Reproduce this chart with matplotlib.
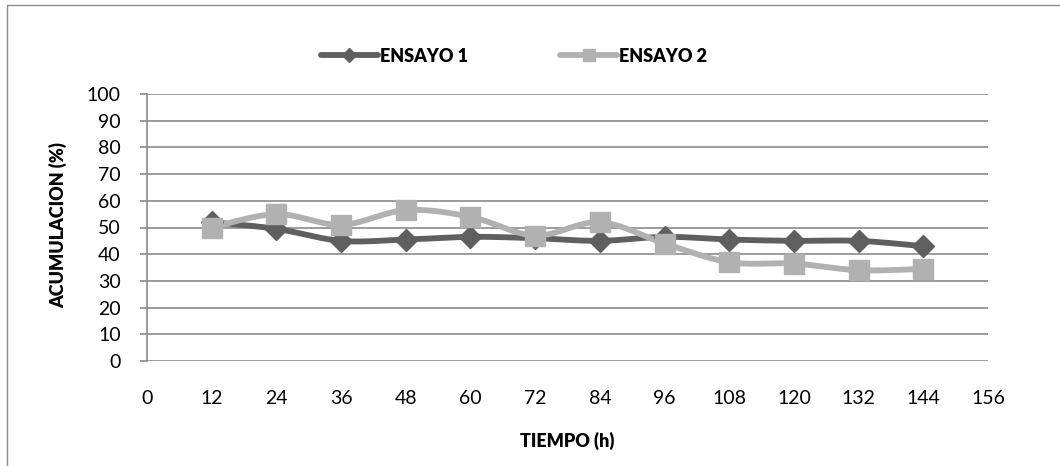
import numpy as np
import matplotlib
matplotlib.use("Agg")
import matplotlib.pyplot as plt
from matplotlib.lines import Line2D
from matplotlib.patches import Rectangle

# Data
tiempo = [12, 24, 36, 48, 60, 72, 84, 96, 108, 120, 132, 144]
ensayo_1 = [52, 49.5, 45, 45.5, 46.5, 46, 45, 46.5, 45.5, 45, 45, 43]
ensayo_2 = [50, 55, 51, 56.5, 54, 47, 52, 44, 37, 36.5, 34, 34.5]
x_ticks = list(range(0, 157, 12))
y_ticks = list(range(0, 101, 10))

C1 = "#5f5f5f"
C2 = "#b1b1b1"
GRID = "#8a8a8a"

plt.rcParams['font.family'] = ['Lato', 'DejaVu Sans']
BOLD = "heavy"


def smooth(x, y, n=30):
    """Catmull-Rom curve through the points (smoothed line)."""
    x = np.asarray(x, float)
    y = np.asarray(y, float)
    px = np.concatenate([[x[0]], x, [x[-1]]])
    py = np.concatenate([[y[0]], y, [y[-1]]])
    xs, ys = [], []
    t = np.linspace(0, 1, n)
    for i in range(1, len(px) - 2):
        p0x, p1x, p2x, p3x = px[i - 1:i + 3]
        p0y, p1y, p2y, p3y = py[i - 1:i + 3]
        c1x, c1y = p1x + (p2x - p0x) / 6, p1y + (p2y - p0y) / 6
        c2x, c2y = p2x - (p3x - p1x) / 6, p2y - (p3y - p1y) / 6
        bx = (1 - t) ** 3 * p1x + 3 * (1 - t) ** 2 * t * c1x + 3 * (1 - t) * t ** 2 * c2x + t ** 3 * p2x
        by = (1 - t) ** 3 * p1y + 3 * (1 - t) ** 2 * t * c1y + 3 * (1 - t) * t ** 2 * c2y + t ** 3 * p2y
        xs.append(bx)
        ys.append(by)
    return np.concatenate(xs), np.concatenate(ys)


fig = plt.figure(figsize=(10.6, 4.66), dpi=100)
fig.patch.set_facecolor("white")
fig.patches.append(Rectangle((7 / 1060, -0.1), 1.2, 1 - 5 / 466 + 0.1,
                             transform=fig.transFigure, fill=False,
                             edgecolor="#8c8c8c", linewidth=1.0))

ax = fig.add_axes([147 / 1060, 1 - 361 / 466, (988 - 147) / 1060, (361 - 94) / 466])
ax.set_xlim(0, 156)
ax.set_ylim(0, 100)

for v in y_ticks:
    ax.axhline(v, color=GRID, linewidth=1.2, zorder=1)

for xs_, ys_, col, mk, ms in [(tiempo, ensayo_1, C1, "D", 11.5),
                              (tiempo, ensayo_2, C2, "s", 14)]:
    sx, sy = smooth(xs_, ys_)
    ax.plot(sx, sy, color=col, linewidth=4.2, solid_capstyle="round", zorder=3)
    ax.plot(xs_, ys_, linestyle="none", marker=mk, markersize=ms,
            markerfacecolor=col, markeredgecolor=col, zorder=4)

for s in ["top", "right", "bottom"]:
    ax.spines[s].set_visible(False)
ax.spines["left"].set_color(GRID)
ax.spines["left"].set_linewidth(1.2)

ax.set_xticks(x_ticks)
ax.set_yticks(y_ticks)
ax.tick_params(axis="x", length=0, pad=21, labelsize=14, colors="black")
ax.tick_params(axis="y", length=5, width=1.2, color=GRID, pad=14, labelsize=14, labelcolor="black")

ax.set_xlabel("TIEMPO (h)", fontsize=13, fontweight=BOLD, labelpad=18)
ax.set_ylabel("ACUMULACION (%)", fontsize=13, fontweight=BOLD)
ax.yaxis.set_label_coords(-0.095, 0.51)

handles = [
    Line2D([], [], color=C1, linewidth=4.2, marker="D", markersize=7, solid_capstyle="round"),
    Line2D([], [], color=C2, linewidth=4.2, marker="s", markersize=8, solid_capstyle="round"),
]
fig.legend(handles, ["ENSAYO 1", "ENSAYO 2"], loc="center", ncol=2,
           bbox_to_anchor=(514 / 1060, 1 - 56 / 466), frameon=False,
           prop={"weight": BOLD, "size": 13}, handlelength=3.15,
           handletextpad=0.12, columnspacing=5.1)

fig.savefig("out.png", dpi=100)
